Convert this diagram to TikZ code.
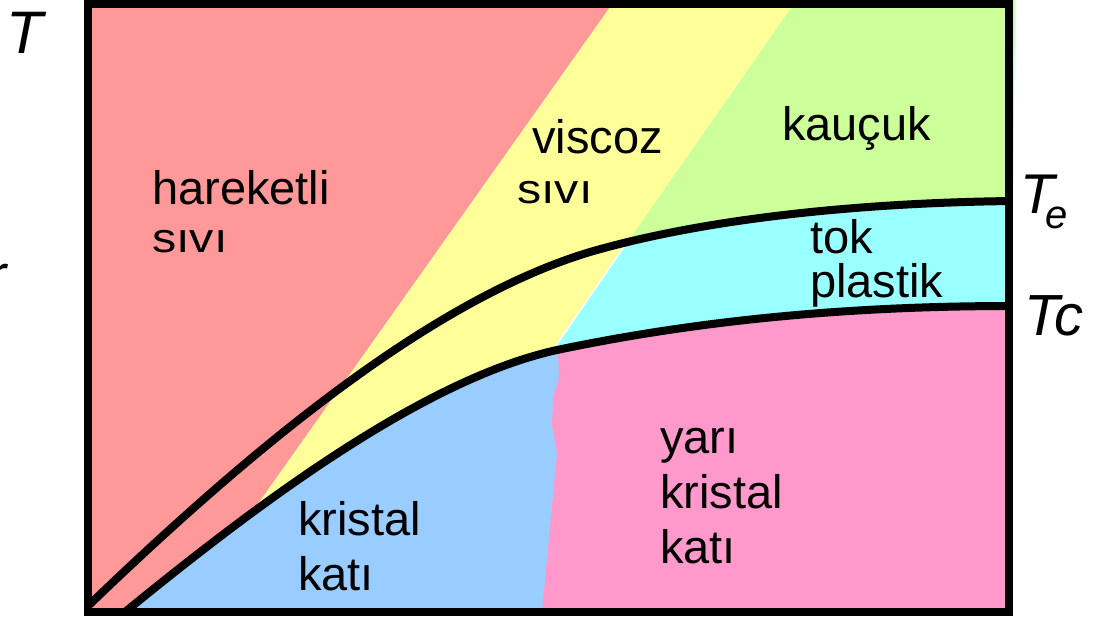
\documentclass[tikz,border=0pt]{standalone}
\usepackage{fontspec}
\setmainfont{Liberation Sans}
\definecolor{cred}{HTML}{FF9999}
\definecolor{cyel}{HTML}{FFFF99}
\definecolor{cgrn}{HTML}{CCFF99}
\definecolor{ccyn}{HTML}{99FFFF}
\definecolor{cblu}{HTML}{99CCFF}
\definecolor{cpnk}{HTML}{FF99CC}
\tikzset{
  lbl/.style={anchor=base west, inner sep=0pt, font=\fontsize{47}{50}\selectfont},
  tlbl/.style={anchor=base west, inner sep=0pt, font=\fontsize{60}{62}\selectfont\itshape},
  curve/.style={line width=8pt, line join=round},
}
\newcommand{\sivi}{\scalebox{1.03}[0.88]{sıvı}}
\newcommand{\upperpath}{(88,606) .. controls (250,450) and (430,300) .. (590,252) .. controls (700,220) and (850,203) .. (1012,201)}
\newcommand{\lowerpath}{(125,612) .. controls (250,510) and (420,380) .. (557,350) .. controls (700,320) and (850,306) .. (1012,306)}
\begin{document}
\begin{tikzpicture}[x=1pt,y=-1pt]
\useasboundingbox (0,0) rectangle (1099,618);
% base red
\fill[cred] (88,4) rectangle (1009,612);
% above lower curve
\begin{scope}
  \clip \lowerpath -- (1015,0) -- (0,0) -- (0,618) -- cycle;
  \fill[cyel] (615,0) -- (1015,0) -- (1015,618) -- (177,618) -- cycle;
  \fill[ccyn] (797,0) -- (1015,0) -- (1015,618) -- (365,618) -- cycle;
  \clip \upperpath -- (1015,0) -- (0,0) -- (0,606) -- cycle;
  \fill[cgrn] (797,0) -- (1015,0) -- (1015,618) -- (365,618) -- cycle;
\end{scope}
% below lower curve
\begin{scope}
  \clip \lowerpath -- (1015,618) -- (120,618) -- cycle;
  \fill[cblu] (88,300) rectangle (1009,612);
  \fill[cpnk] (557,330) -- (559,377) -- (553,398) -- (552,425) -- (557,453) -- (542,612) -- (1009,612) -- (1009,300) -- cycle;
\end{scope}
% thin white seam
\coordinate (w1) at (630,238);
\coordinate (w2) at (555,347);
\draw[white, line width=1.5pt] (w1) -- (w2);
% curves
\draw[curve] \upperpath;
\draw[curve] \lowerpath;
% frame
\draw[line width=8pt] (88,4) rectangle (1009,612);
% labels
\node[tlbl] (tT) at (6,53) {T};
\node[tlbl] (tr) at (-14,296) {r};
\node[tlbl, font=\fontsize{56}{60}\selectfont\itshape] (tTe) at (1020,213) {T};
\node[tlbl, font=\fontsize{40}{44}\selectfont\itshape] (te) at (1045,228) {e};
\node[tlbl, font=\fontsize{58}{60}\selectfont\itshape] (tTc) at (1024,335) {Tc};
\node[lbl] (l1a) at (152,204) {hareketli};
\node[lbl] (l1b) at (152,252) {\sivi};
\node[lbl] (l2a) at (532,153) {viscoz};
\node[lbl] (l2b) at (517,203) {\sivi};
\node[lbl] (l3) at (782,140) {kauçuk};
\node[lbl] (l4a) at (810,253) {tok};
\node[lbl] (l4b) at (810,297) {plastik};
\node[lbl] (l5a) at (298,535) {kristal};
\node[lbl] (l5b) at (298,590) {katı};
\node[lbl] (l6a) at (660,453) {yarı};
\node[lbl] (l6b) at (660,508) {kristal};
\node[lbl] (l6c) at (660,563) {katı};
\end{tikzpicture}
\end{document}
